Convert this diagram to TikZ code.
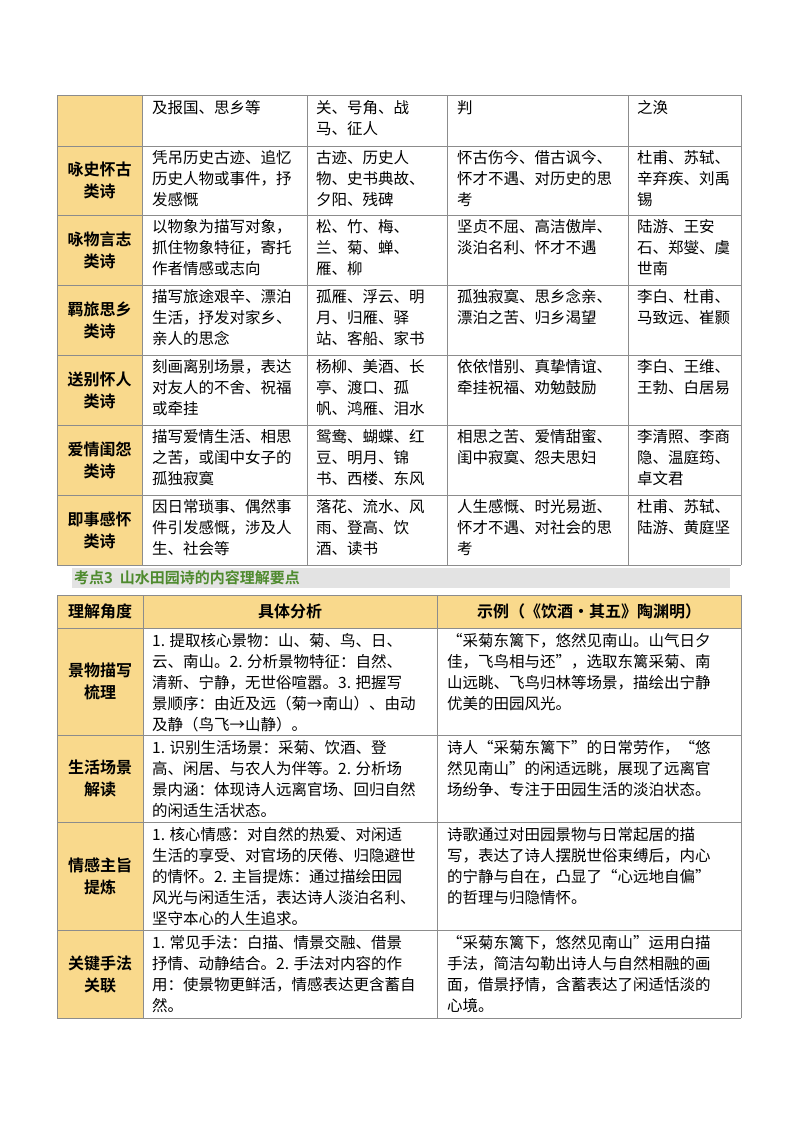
\documentclass[tikz,border=0pt]{standalone}
\usepackage{fontspec}
\setmainfont{Noto Sans CJK SC}[BoldFont={Noto Sans CJK SC Bold}]
\definecolor{gold}{HTML}{F9D98C}
\definecolor{grid}{HTML}{8C8C8C}
\definecolor{barbg}{HTML}{E3E3E3}
\definecolor{green}{HTML}{4E8A2E}
\begin{document}
\begin{tikzpicture}[x=1pt,y=-1pt,
  txt/.style={anchor=north west,align=left,inner sep=0pt,font=\fontsize{15.5}{21}\selectfont},
  hd/.style={align=center,inner sep=0pt,font=\fontsize{16}{22}\selectfont\bfseries},
  gridline/.style={draw=grid,line width=0.8pt}]
\useasboundingbox (0,0) rectangle (800,1132);
% ---------- top table ----------
\fill[gold] (57,95) rectangle (142,565);
\foreach \y in {95,146,215,285,355,425,495,565} \draw[gridline] (57,\y) -- (741,\y);
\foreach \x in {57,142,307,447,628,741} \draw[gridline] (\x,95) -- (\x,565);
\node[txt] (a1) at (152,100) {及报国、思乡等};
\node[txt] (a2) at (316,100) {关、号角、战\\马、征人};
\node[txt] (a3) at (457,100) {判};
\node[txt] (a4) at (637,100) {之涣};
\node[hd] (h1) at (99.5,180.5) {咏史怀古\\类诗};
\node[txt] (b1) at (152,150) {凭吊历史古迹、追忆\\历史人物或事件，抒\\发感慨};
\node[txt] (b2) at (316,150) {古迹、历史人\\物、史书典故、\\夕阳、残碑};
\node[txt] (b3) at (457,150) {怀古伤今、借古讽今、\\怀才不遇、对历史的思\\考};
\node[txt] (b4) at (637,150) {杜甫、苏轼、\\辛弃疾、刘禹\\锡};
\node[hd] (h2) at (99.5,250) {咏物言志\\类诗};
\node[txt] (c1) at (152,219) {以物象为描写对象，\\抓住物象特征，寄托\\作者情感或志向};
\node[txt] (c2) at (316,219) {松、竹、梅、\\兰、菊、蝉、\\雁、柳};
\node[txt] (c3) at (457,219) {坚贞不屈、高洁傲岸、\\淡泊名利、怀才不遇};
\node[txt] (c4) at (637,219) {陆游、王安\\石、郑燮、虞\\世南};
\node[hd] (h3) at (99.5,320) {羁旅思乡\\类诗};
\node[txt] (d1) at (152,289) {描写旅途艰辛、漂泊\\生活，抒发对家乡、\\亲人的思念};
\node[txt] (d2) at (316,289) {孤雁、浮云、明\\月、归雁、驿\\站、客船、家书};
\node[txt] (d3) at (457,289) {孤独寂寞、思乡念亲、\\漂泊之苦、归乡渴望};
\node[txt] (d4) at (637,289) {李白、杜甫、\\马致远、崔颢};
\node[hd] (h4) at (99.5,390) {送别怀人\\类诗};
\node[txt] (e1) at (152,359) {刻画离别场景，表达\\对友人的不舍、祝福\\或牵挂};
\node[txt] (e2) at (316,359) {杨柳、美酒、长\\亭、渡口、孤\\帆、鸿雁、泪水};
\node[txt] (e3) at (457,359) {依依惜别、真挚情谊、\\牵挂祝福、劝勉鼓励};
\node[txt] (e4) at (637,359) {李白、王维、\\王勃、白居易};
\node[hd] (h5) at (99.5,460) {爱情闺怨\\类诗};
\node[txt] (f1) at (152,429) {描写爱情生活、相思\\之苦，或闺中女子的\\孤独寂寞};
\node[txt] (f2) at (316,429) {鸳鸯、蝴蝶、红\\豆、明月、锦\\书、西楼、东风};
\node[txt] (f3) at (457,429) {相思之苦、爱情甜蜜、\\闺中寂寞、怨夫思妇};
\node[txt] (f4) at (637,429) {李清照、李商\\隐、温庭筠、\\卓文君};
\node[hd] (h6) at (99.5,530) {即事感怀\\类诗};
\node[txt] (g1) at (152,499) {因日常琐事、偶然事\\件引发感慨，涉及人\\生、社会等};
\node[txt] (g2) at (316,499) {落花、流水、风\\雨、登高、饮\\酒、读书};
\node[txt] (g3) at (457,499) {人生感慨、时光易逝、\\怀才不遇、对社会的思\\考};
\node[txt] (g4) at (637,499) {杜甫、苏轼、\\陆游、黄庭坚};
% ---------- heading bar ----------
\fill[barbg] (72,568) rectangle (730,588);
\node[anchor=west,inner sep=0pt,text=green,font=\fontsize{15}{16}\selectfont\bfseries] (title) at (74,578) {考点3\ \ 山水田园诗的内容理解要点};
% ---------- bottom table ----------
\fill[gold] (57,595) rectangle (741,628);
\fill[gold] (57,628) rectangle (143,1018);
\foreach \y in {595,628,735,822,930,1018} \draw[gridline] (57,\y) -- (741,\y);
\foreach \x in {57,143,437,741} \draw[gridline] (\x,595) -- (\x,1018);
\node[hd] (k0) at (100,611.5) {理解角度};
\node[hd] (k1) at (290,611.5) {具体分析};
\node[hd] (k2) at (589,611.5) {示例（《饮酒·其五》陶渊明）};
\node[hd] (m1) at (100,681.5) {景物描写\\梳理};
\node[txt] (m2) at (152,633) {1. 提取核心景物：山、菊、鸟、日、\\云、南山。2. 分析景物特征：自然、\\清新、宁静，无世俗喧嚣。3. 把握写\\景顺序：由近及远（菊→南山）、由动\\及静（鸟飞→山静）。};
\node[txt] (m3) at (447,633) {“采菊东篱下，悠然见南山。山气日夕\\佳，飞鸟相与还”，选取东篱采菊、南\\山远眺、飞鸟归林等场景，描绘出宁静\\优美的田园风光。};
\node[hd] (n1) at (100,778.5) {生活场景\\解读};
\node[txt] (n2) at (152,740) {1. 识别生活场景：采菊、饮酒、登\\高、闲居、与农人为伴等。2. 分析场\\景内涵：体现诗人远离官场、回归自然\\的闲适生活状态。};
\node[txt] (n3) at (447,740) {诗人“采菊东篱下”的日常劳作，“悠\\然见南山”的闲适远眺，展现了远离官\\场纷争、专注于田园生活的淡泊状态。};
\node[hd] (p1) at (100,876) {情感主旨\\提炼};
\node[txt] (p2) at (152,827) {1. 核心情感：对自然的热爱、对闲适\\生活的享受、对官场的厌倦、归隐避世\\的情怀。2. 主旨提炼：通过描绘田园\\风光与闲适生活，表达诗人淡泊名利、\\坚守本心的人生追求。};
\node[txt] (p3) at (447,827) {诗歌通过对田园景物与日常起居的描\\写，表达了诗人摆脱世俗束缚后，内心\\的宁静与自在，凸显了“心远地自偏”\\的哲理与归隐情怀。};
\node[hd] (q1) at (100,974) {关键手法\\关联};
\node[txt] (q2) at (152,935) {1. 常见手法：白描、情景交融、借景\\抒情、动静结合。2. 手法对内容的作\\用：使景物更鲜活，情感表达更含蓄自\\然。};
\node[txt] (q3) at (447,935) {“采菊东篱下，悠然见南山”运用白描\\手法，简洁勾勒出诗人与自然相融的画\\面，借景抒情，含蓄表达了闲适恬淡的\\心境。};
\end{tikzpicture}
\end{document}
